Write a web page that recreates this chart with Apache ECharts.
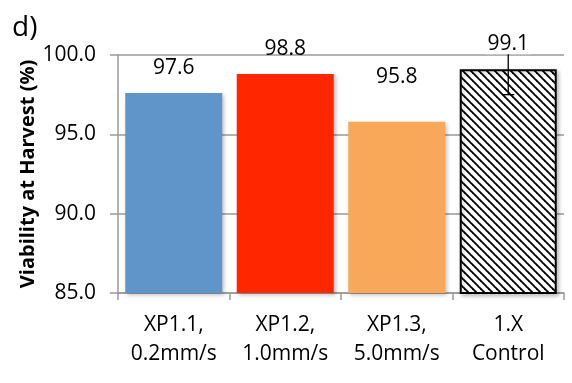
<!DOCTYPE html>
<html>
<head>
<meta charset="utf-8">
<script src="https://cdn.jsdelivr.net/npm/echarts@6/dist/echarts.min.js"></script>
<style>
  html, body { margin: 0; padding: 0; background: #fff; }
  #chart { width: 572px; height: 383px; }
</style>
</head>
<body>
<div id="chart"></div>
<script>
// Viability at harvest for three XP1 flow rates and the 1.X control
const categories = ['XP1.1,\n0.2mm/s', 'XP1.2,\n1.0mm/s', 'XP1.3,\n5.0mm/s', '1.X\nControl'];
const viability = [97.6, 98.8, 95.8, 99.1];
const errLow = [null, null, null, 97.5];
const errHigh = [null, null, null, 100.7];
const yTicks = { min: 85, max: 100, step: 5 };

const FONT = '"Open Sans", "Liberation Sans", sans-serif';

// Wide downward-diagonal hatch used for the control bar
function hatchPattern() {
  const c = document.createElement('canvas');
  c.width = 8; c.height = 8;
  const g = c.getContext('2d');
  g.fillStyle = '#fff';
  g.fillRect(0, 0, 8, 8);
  g.strokeStyle = '#000';
  g.lineWidth = 1.9;
  for (let k = -1; k <= 1; k++) {
    g.beginPath();
    g.moveTo(k * 8 - 1, -1);
    g.lineTo(k * 8 + 9, 9);
    g.stroke();
  }
  return c;
}

const barFills = ['#5f95c8', '#ff2600', '#f9a85a', { image: hatchPattern(), repeat: 'repeat' }];
const shadow = { shadowBlur: 4, shadowOffsetX: 2, shadowOffsetY: 2, shadowColor: 'rgba(0,0,0,0.25)' };

const barData = viability.map((v, i) => ({
  value: v,
  itemStyle: Object.assign({ color: barFills[i] },
    i === 3 ? { borderColor: '#000', borderWidth: 2 } : {}, shadow)
}));

// extra lift for the 95.8 label, which sits higher above its bar
const labelLift = [0, 0, 19, 0];

const chart = echarts.init(document.getElementById('chart'), null, { renderer: 'canvas' });
chart.setOption({
  animation: false,
  textStyle: { fontFamily: FONT },
  graphic: [{
    type: 'text', left: 12, top: 14,
    style: { text: 'd)', font: '28px ' + FONT, fill: '#000' }
  }],
  grid: { left: 118, right: 8, top: 55, bottom: 90, containLabel: false },
  xAxis: {
    type: 'category',
    data: categories,
    boundaryGap: true,
    axisLine: { lineStyle: { color: '#9a9a9a', width: 1.5 } },
    axisTick: { show: true, length: 7, lineStyle: { color: '#9a9a9a', width: 1.5 } },
    axisLabel: { color: '#000', fontSize: 21, lineHeight: 29, margin: 18, fontFamily: FONT, interval: 0 }
  },
  yAxis: {
    type: 'value',
    min: yTicks.min, max: yTicks.max, interval: yTicks.step,
    name: 'Viability at Harvest (%)',
    nameLocation: 'middle', nameRotate: 90, nameGap: 80,
    nameMoveOverlap: false,
    nameTextStyle: { color: '#000', fontSize: 20, fontWeight: 'bold', fontFamily: FONT },
    axisLine: { show: true, lineStyle: { color: '#9a9a9a', width: 1.5 } },
    axisTick: { show: true, length: 8, lineStyle: { color: '#9a9a9a', width: 1.5 } },
    axisLabel: {
      color: '#000', fontSize: 21, margin: 22, fontFamily: FONT,
      formatter: v => v.toFixed(1)
    },
    splitLine: { show: true, lineStyle: { color: '#9a9a9a', width: 1.5 } }
  },
  series: [
    {
      type: 'bar',
      data: barData,
      barCategoryGap: '13%',
      z: 2
    },
    {
      // error bar on the control
      type: 'custom',
      z: 3,
      data: viability.map((v, i) => [i, errLow[i], errHigh[i]]),
      renderItem: (params, api) => {
        const lo = api.value(1), hi = api.value(2);
        if (lo == null || hi == null || isNaN(lo) || isNaN(hi)) return null;
        const a = api.coord([api.value(0), lo]);
        const b = api.coord([api.value(0), hi]);
        const half = 6;
        const st = { stroke: '#000', lineWidth: 1.3 };
        return {
          type: 'group',
          children: [
            { type: 'line', shape: { x1: a[0], y1: a[1], x2: b[0], y2: b[1] }, style: st },
            { type: 'line', shape: { x1: a[0] - half, y1: a[1], x2: a[0] + half, y2: a[1] }, style: st },
            { type: 'line', shape: { x1: b[0] - half, y1: b[1], x2: b[0] + half, y2: b[1] }, style: st }
          ]
        };
      },
      clip: false,
      silent: true
    },
    {
      // value labels above the bars, drawn on top of the error bar
      type: 'custom',
      z: 5,
      data: viability.map((v, i) => [i, v]),
      renderItem: (params, api) => {
        const i = params.dataIndex;
        const p = api.coord([api.value(0), api.value(1)]);
        const style = {
          text: viability[i].toFixed(1),
          font: '21px ' + FONT,
          fill: '#000',
          align: 'center',
          verticalAlign: 'middle'
        };
        if (errHigh[i] != null) {
          style.backgroundColor = '#fff';
          style.padding = [0, 2];
        }
        return { type: 'text', x: p[0], y: p[1] - 25.5 - labelLift[i], style: style };
      },
      clip: false,
      silent: true
    }
  ]
});
</script>
</body>
</html>
